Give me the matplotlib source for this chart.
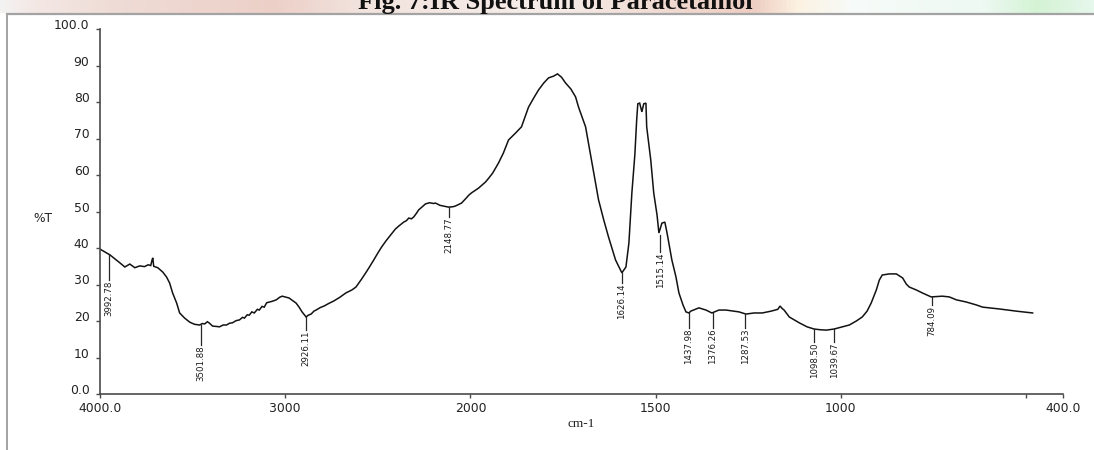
import numpy as np
import matplotlib
matplotlib.use("Agg")
import matplotlib.pyplot as plt
from matplotlib.lines import Line2D
from matplotlib.colors import LinearSegmentedColormap
from matplotlib import font_manager as fm

# ---------------- data ----------------
wavenumber = [4000, 3973, 3946, 3919, 3892, 3866, 3839, 3812, 3785, 3760, 3740, 3726, 3718, 3715,
              3710, 3700, 3688, 3661, 3640, 3624, 3608, 3586, 3570, 3543, 3516, 3490, 3462, 3448,
              3435, 3420, 3409, 3392, 3370, 3355, 3335, 3317, 3300, 3285, 3265, 3247, 3230, 3220,
              3205, 3194, 3180, 3167, 3150, 3140, 3125, 3113, 3100, 3086, 3070, 3048, 3030, 3016,
              2995, 2979, 2960, 2941, 2925, 2909, 2887, 2875, 2860, 2845, 2833, 2810, 2790, 2765,
              2737, 2705, 2672, 2640, 2618, 2590, 2565, 2545, 2522, 2500, 2479, 2455, 2430, 2405,
              2387, 2360, 2345, 2333, 2318, 2306, 2290, 2280, 2260, 2242, 2220, 2200, 2188, 2165,
              2145, 2118, 2095, 2081, 2060, 2048, 2035, 2022, 2010, 1997, 1978, 1959, 1950, 1940,
              1932, 1924, 1911, 1897, 1888, 1878, 1862, 1852, 1843, 1829, 1816, 1802, 1789, 1775,
              1765, 1754, 1743, 1729, 1716, 1708, 1689, 1673, 1654, 1640, 1627, 1608, 1591, 1580,
              1572, 1564, 1556, 1551, 1548, 1543, 1537, 1532, 1526, 1524, 1518, 1513, 1505, 1496,
              1491, 1483, 1475, 1469, 1456, 1445, 1437, 1426, 1418, 1410, 1405, 1383, 1364, 1348,
              1329, 1310, 1289, 1275, 1256, 1234, 1212, 1188, 1170, 1164, 1158, 1153, 1139, 1112,
              1091, 1072, 1055, 1039, 1018, 996, 977, 958, 942, 929, 918, 904, 896, 888, 869, 850,
              833, 823, 815, 796, 780, 756, 726, 707, 688, 661, 634, 617, 599, 572, 526, 482]
transmittance = [39.7, 38.9, 38.1, 37.0, 35.9, 34.8, 35.6, 34.6, 35.1, 34.9, 35.4, 35.2, 36.9, 37.3,
                 35.0, 34.8, 34.6, 33.4, 32.0, 30.4, 27.7, 24.9, 22.2, 20.8, 19.7, 19.1, 18.9, 19.3,
                 19.2, 19.8, 19.4, 18.6, 18.5, 18.4, 18.9, 18.9, 19.4, 19.5, 20.1, 20.3, 21.0, 20.8,
                 21.7, 21.6, 22.5, 22.2, 23.2, 23.0, 24.0, 23.8, 25.0, 25.2, 25.4, 25.8, 26.5, 26.8,
                 26.5, 26.3, 25.6, 24.9, 23.8, 22.5, 21.1, 21.6, 21.9, 22.7, 23.0, 23.7, 24.1, 24.8,
                 25.5, 26.5, 27.7, 28.5, 29.3, 31.3, 33.2, 34.8, 36.7, 38.6, 40.3, 42.0, 43.6, 45.2,
                 46.0, 47.1, 47.5, 48.2, 48.0, 48.5, 49.6, 50.4, 51.3, 52.1, 52.4, 52.2, 52.3, 51.7,
                 51.5, 51.2, 51.3, 51.5, 52.0, 52.3, 53.0, 53.7, 54.4, 55.1, 56.4, 58.1, 59.2, 60.5,
                 61.9, 63.3, 66.0, 69.6, 70.5, 71.5, 73.2, 76.0, 78.6, 81.1, 83.3, 85.2, 86.6, 87.1,
                 87.7, 86.8, 85.2, 83.6, 81.4, 78.6, 73.2, 64.1, 53.2, 47.7, 43.0, 36.7, 33.2, 34.8,
                 41.4, 55.1, 65.5, 75.1, 79.5, 79.7, 77.3, 79.5, 79.7, 73.2, 68.2, 64.1, 55.1, 49.0,
                 44.1, 46.8, 47.1, 44.1, 36.7, 32.1, 27.7, 24.4, 22.5, 22.2, 22.7, 23.6, 23.0, 22.2,
                 23.0, 23.0, 22.7, 22.5, 21.9, 22.2, 22.2, 22.7, 23.2, 24.1, 23.4, 23.0, 21.1, 19.5,
                 18.4, 17.8, 17.6, 17.5, 17.8, 18.4, 18.9, 20.0, 21.1, 22.7, 24.9, 28.5, 31.2, 32.6,
                 32.9, 32.9, 31.8, 30.1, 29.3, 28.5, 27.7, 26.6, 26.8, 26.6, 25.8, 25.2, 24.4, 23.8,
                 23.6, 23.3, 22.7, 22.2]

peak_labels = ["3992.78", "3501.88", "2926.11", "2148.77", "1626.14", "1515.14",
               "1437.98", "1376.26", "1287.53", "1098.50", "1039.67", "784.09"]
peak_pos = [3952, 3457, 2887, 2118, 1591, 1488, 1410, 1345, 1258, 1071, 1017, 755]
peak_T = [38.1, 18.9, 21.1, 51.2, 33.2, 43.6, 22.2, 22.2, 21.9, 17.8, 17.8, 26.6]
peak_label_T = [31.2, 13.4, 17.5, 48.5, 30.4, 38.9, 18.1, 18.1, 18.1, 14.2, 14.2, 24.4]

x_ticks = [4000, 3000, 2000, 1500, 1000, 500, 400]
x_tick_labels = ["4000.0", "3000", "2000", "1500", "1000", "", "400.0"]
y_ticks = [0, 10, 20, 30, 40, 50, 60, 70, 80, 90, 100]
y_tick_labels = ["0.0", "10", "20", "30", "40", "50", "60", "70", "80", "90", "100.0"]

title = "Fig. 7:IR Spectrum of Paracetamol"
x_label = "cm-1"
y_label = "%T"

# ---------------- fonts ----------------
names = {f.name for f in fm.fontManager.ttflist}
if "Liberation Sans Narrow" in names:
    narrow_family, narrow_size = ["Liberation Sans Narrow"], 7.6
else:
    narrow_family, narrow_size = ["DejaVu Sans"], 6.2
serif = ["Liberation Serif", "DejaVu Serif"]

# ---------------- figure ----------------
fig = plt.figure(figsize=(10.94, 4.5), dpi=100)
fig.patch.set_facecolor("white")

# faint coloured strip at top (background of the source page)
strip = fig.add_axes([0, 0.970, 1, 0.030], zorder=0)
stops = [(0.0, "#f3f2f2"), (0.03, "#f4e8e5"), (0.10, "#efdcd6"), (0.25, "#ecd0c8"),
         (0.33, "#f2e3de"), (0.50, "#f6ede9"), (0.60, "#f0dcd4"), (0.69, "#eecdc2"),
         (0.73, "#fcf2e2"), (0.78, "#f7fbf9"), (0.90, "#eef9f3"), (0.95, "#d4f3d4"),
         (1.0, "#e6f7ec")]
cmap = LinearSegmentedColormap.from_list("strip", stops)
strip.imshow(np.linspace(0, 1, 512)[None, :], aspect="auto", cmap=cmap, extent=[0, 1, 0, 1])
strip.set_axis_off()

fig.add_artist(Line2D([0.0064, 1.0], [0.970, 0.970], transform=fig.transFigure,
                      color="#a3a3a3", lw=1.6, zorder=2))
fig.add_artist(Line2D([0.0064, 0.0064], [0.970, 0.0], transform=fig.transFigure,
                      color="#a3a3a3", lw=1.4, zorder=2))

fig.text(0.5073, 1 - 9 / 450, title, family=serif, fontsize=19, fontweight="bold",
         ha="center", va="baseline", color="#111111", zorder=3)

ax = fig.add_axes([100 / 1094, 1 - 394 / 450, (1063 - 100) / 1094, (394 - 29) / 450])


def fwd(x):
    x = np.asarray(x, dtype=float)
    return np.where(x >= 2000, x, 2 * x - 2000)


def inv(y):
    y = np.asarray(y, dtype=float)
    return np.where(y >= 2000, y, (y + 2000) / 2)


ax.set_xscale("function", functions=(fwd, inv))
ax.set_xlim(4000, 400)
ax.set_ylim(0, 100)

ax.plot(wavenumber, transmittance, color="#121212", lw=1.1, solid_joinstyle="miter")

for xp, yt, yl, lab in zip(peak_pos, peak_T, peak_label_T, peak_labels):
    ax.plot([xp, xp], [yt, yl], color="#262626", lw=0.9)
    ax.text(xp, yl - 0.2, lab, rotation=90, ha="center", va="top",
            family=narrow_family, fontsize=narrow_size, color="#1a1a1a")

for s in ("top", "right"):
    ax.spines[s].set_visible(False)
for s in ("left", "bottom"):
    ax.spines[s].set_color("#4a4a4a")
    ax.spines[s].set_linewidth(1.2)

ax.set_xticks(x_ticks)
ax.set_xticklabels(x_tick_labels)
ax.set_yticks(y_ticks)
ax.set_yticklabels(y_tick_labels)
ax.minorticks_off()
ax.tick_params(axis="both", direction="out", length=2.6, width=1.0, color="#4a4a4a",
               labelsize=8.9, labelcolor="#222222")
ax.tick_params(axis="x", pad=3.2)
ax.tick_params(axis="y", pad=5.0)
for t in ax.get_yticklabels():
    t.set_verticalalignment("baseline")

fig.text(43 / 1094, 1 - 219 / 450, y_label, fontsize=8.8, ha="center", va="center",
         color="#222222")
fig.text(581 / 1094, 1 - 424 / 450, x_label, family=serif, fontsize=9.5, ha="center",
         va="center", color="#222222")

fig.savefig("out.png", dpi=100)
